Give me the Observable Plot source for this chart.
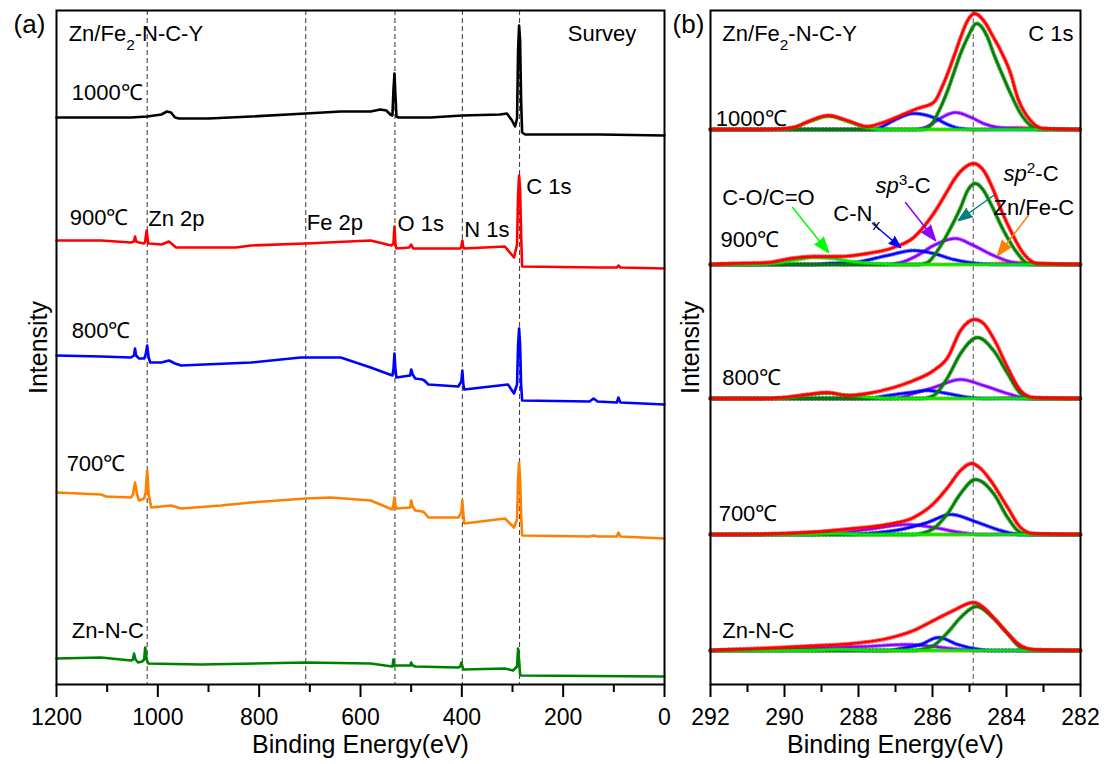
<!DOCTYPE html>
<html><head><meta charset="utf-8">
<script src="https://cdn.jsdelivr.net/npm/d3@7"></script>
<script src="https://cdn.jsdelivr.net/npm/@observablehq/plot@0.6"></script>
<style>
body{margin:0;background:#fff;}
#wrap{display:flex;width:1109px;height:764px;}
#wrap svg{overflow:visible;}
</style></head><body><div id="wrap"></div>
<script>
// ---------------- Panel (a): XPS survey, stacked spectra [BE (eV), intensity a.u.] ----------------
const surveySamples = ["1000℃", "900℃", "800℃", "700℃", "Zn-N-C"];
const survey1000 = [[1200,567],[1111,567],[1053,567],[1021,568],[993,570],[982,573],[974,572],[966,567],[958,566],[900,566],[816,568],[708,571],[639,573],[580,573],[561,575],[549,574],[541,570],[537,569],[535,594],[533,611],[531,589],[529,568],[525,567],[462,567],[399,569],[325,570],[311,571],[301,564],[295,558],[291,566],[289,634],[287,659],[285,644],[283,584],[281,552],[275,550],[128,550],[0,549]];
const survey900 = [[1200,444],[1112,444],[1053,442],[1047,443],[1045,448],[1043,443],[1037,442],[1027,441],[1025,443],[1022,454],[1019,441],[1017,441],[993,440],[978,443],[964,437],[846,437],[816,439],[708,441],[580,444],[539,439],[535,441],[533,458],[531,440],[529,436],[504,437],[500,440],[496,436],[403,436],[401,438],[399,444],[397,437],[395,436],[315,438],[297,427],[291,440],[289,490],[287,509],[285,495],[283,450],[281,418],[128,417],[94,417],[91,419],[87,417],[0,416]];
const survey800 = [[1200,329],[1112,328],[1053,327],[1047,329],[1045,336],[1043,329],[1037,326],[1027,326],[1024,330],[1021,339],[1018,327],[1015,322],[993,322],[978,324],[966,321],[954,319],[816,322],[718,327],[639,327],[580,317],[537,309],[535,315],[533,331],[531,315],[529,307],[502,309],[500,315],[497,310],[492,306],[478,305],[474,304],[466,300],[407,298],[401,303],[399,314],[397,300],[395,295],[309,300],[297,291],[291,300],[289,340],[287,356],[285,340],[283,300],[281,284],[148,283],[140,286],[132,283],[94,282],[91,287],[87,282],[0,280]];
const survey700 = [[1200,192],[1112,190],[1102,188],[1053,187],[1049,190],[1045,202],[1041,190],[1037,184],[1027,186],[1024,192],[1021,214],[1018,190],[1013,177],[993,178],[974,179],[954,176],[875,179],[816,182],[708,186],[659,187],[580,184],[537,175],[535,180],[533,187],[531,180],[529,176],[502,177],[500,184],[497,178],[492,174],[478,173],[474,172],[466,167],[407,167],[401,172],[399,184],[397,170],[395,161],[315,166],[297,157],[291,165],[289,205],[287,222],[285,205],[283,170],[281,149],[148,148],[140,149],[132,148],[94,148],[91,152],[87,148],[0,146]];
const surveyZnNC = [[1200,26],[1112,27],[1053,24],[1049,25],[1047,31],[1044,25],[1039,22],[1031,23],[1027,25],[1025,37],[1022,25],[1019,21],[915,20],[708,22],[580,21],[537,18],[535,25],[533,19],[529,19],[502,19],[500,22],[497,19],[492,18],[407,17],[403,18],[401,22],[397,15],[315,16],[299,14],[291,18],[289,36],[287,24],[285,10],[283,9],[0,8]];
const surveySpectra = [survey1000, survey900, survey800, survey700, surveyZnNC];
const surveyColors = ["#000000", "#ff0000", "#0000ff", "#ff8000", "#008000"];
const surveyPeakLines = [1021, 708, 532, 399, 286];
const surveyTicks = [1200, 1000, 800, 600, 400, 200, 0];
const surveyMinor = [1100, 900, 700, 500, 300, 100];
// annotation anchors (BE, intensity)
const surveyLabels = [
  {t:"Zn/Fe_{2}-N-C-Y", be:1176, v:651},
  {t:"Survey", be:191, v:651},
  {t:"1000℃", be:1170, v:592},
  {t:"900℃", be:1174, v:467},
  {t:"Zn 2p", be:1019, v:466},
  {t:"Fe 2p", be:706, v:462},
  {t:"O 1s", be:527, v:461},
  {t:"N 1s", be:395, v:455},
  {t:"C 1s", be:273, v:498},
  {t:"800℃", be:1170, v:354},
  {t:"700℃", be:1180, v:221},
  {t:"Zn-N-C", be:1170, v:54}
];

// ---------------- Panel (b): C 1s fits [BE (eV), height above stack baseline] ----------------
const c1sSamples = ["1000℃", "900℃", "800℃", "700℃", "Zn-N-C"];
const c1sOffsets = [555, 420, 286, 150, 34];
const c1sEnvelope = [
  [[292,0],[290.46,0],[289.76,2],[289.30,9],[288.81,14],[288.30,9],[287.76,3],[287.41,6],[286.86,14],[286.41,21],[285.97,27],[285.70,46],[285.43,72],[285.24,92],[285.05,109],[284.86,116],[284.62,109],[284.35,92],[284.16,79],[283.89,56],[283.70,32],[283.35,9],[283.00,1],[282,0]],
  [[292,0],[291.38,1],[290.46,2],[289.84,6],[289.22,8],[288.49,8],[287.76,11],[287.05,17],[286.51,27],[285.97,51],[285.59,74],[285.43,84],[285.16,96],[284.89,101],[284.62,94],[284.35,74],[284.16,56],[283.89,34],[283.54,11],[283.16,1],[282,0]],
  [[292,0],[290.46,0],[290.03,1],[289.38,4],[288.84,6],[288.30,3],[287.76,5],[287.05,11],[286.51,18],[285.97,28],[285.59,41],[285.24,68],[284.86,79],[284.62,75],[284.35,60],[283.97,31],[283.62,8],[283.27,1],[282,0]],
  [[292,0],[291.38,0],[290.11,1],[289.03,3],[288.14,6],[287.22,10],[286.51,17],[285.97,31],[285.59,47],[285.24,64],[284.95,71],[284.70,66],[284.43,54],[283.97,27],[283.62,7],[283.27,1],[282,0]],
  [[292,0],[291.38,1],[290.11,3],[289.03,5],[288.14,7],[287.22,12],[286.51,20],[285.97,30],[285.43,40],[284.89,48],[284.62,43],[284.35,33],[283.97,17],[283.62,5],[283.27,1],[282,0]]
];
const c1sSp2 = [
  [[292,0],[286.3,0],[286.05,4],[285.86,16],[285.59,39],[285.43,56],[285.24,76],[285.05,92],[284.81,106],[284.51,92],[284.35,76],[284.08,52],[283.89,36],[283.62,16],[283.35,4],[283.1,0],[282,0]],
  [[292,0],[286.4,0],[286.14,2],[285.86,14],[285.59,31],[285.24,57],[285.05,74],[284.84,81],[284.62,74],[284.43,61],[284.08,34],[283.70,11],[283.43,1],[283.2,0],[282,0]],
  [[292,0],[286.3,0],[285.97,3],[285.59,21],[285.24,45],[284.78,61],[284.35,48],[283.97,25],[283.62,5],[283.3,0],[282,0]],
  [[292,0],[286.5,0],[286.32,1],[285.97,6],[285.59,21],[285.24,41],[284.84,55],[284.35,41],[283.97,17],[283.62,2],[283.3,0],[282,0]],
  [[292,0],[286.5,0],[286.32,1],[285.97,5],[285.59,18],[285.24,33],[284.81,44],[284.35,32],[283.97,17],[283.62,3],[283.3,0],[282,0]]
];
const c1sSp3 = [
  [[292,0],[286.5,0],[286.14,3],[285.80,11],[285.38,17],[284.95,12],[284.62,6],[284.2,2],[283.6,1],[283.0,0],[282,0]],
  [[292,0],[287.3,0],[286.86,2],[286.41,9],[285.97,19],[285.38,26],[284.89,19],[284.35,9],[283.81,2],[283.2,0],[282,0]],
  [[292,0],[287.0,0],[286.51,5],[285.97,11],[285.24,19],[284.62,13],[283.97,5],[283.4,0],[282,0]],
  [[292,0],[289.5,0],[288.68,1],[287.76,5],[286.68,10],[285.97,7],[285.24,2],[284.7,0],[282,0]],
  [[292,0],[291.38,1],[290.46,1],[289.5,2],[288.68,3],[287.76,4],[286.68,6],[285.97,4],[285.24,1],[284.7,0],[282,0]]
];
const c1sCNx = [
  [[292,0],[287.6,0],[287.41,2],[287.05,9],[286.51,16],[285.97,12],[285.59,5],[285.24,1],[284.8,0],[282,0]],
  [[292,0],[289.2,0],[288.84,1],[288.14,2],[287.22,9],[286.51,14],[285.97,11],[285.43,5],[284.78,1],[284.2,0],[282,0]],
  [[292,0],[287.8,0],[287.2,3],[286.6,6],[286.14,8],[285.6,5],[285.0,1],[284.5,0],[282,0]],
  [[292,0],[288.2,0],[287.76,1],[286.86,5],[286.14,12],[285.51,20],[284.78,12],[284.16,4],[283.62,0],[282,0]],
  [[292,0],[287.2,0],[286.86,2],[286.32,6],[285.84,13],[285.32,6],[284.89,2],[284.4,0],[282,0]]
];
const c1sCO = [
  [[292,0],[290.2,0],[289.76,2],[289.30,8],[288.81,13],[288.30,8],[287.8,2],[287.3,0],[282,0]],
  [[292,0],[290.8,0],[290.1,2],[289.6,5],[289.22,7],[288.7,6],[288.2,3],[287.5,1],[287,0],[282,0]],
  [[292,0],[290.2,0],[289.5,3],[288.84,5],[288.2,3],[287.6,1],[287,0],[282,0]],
  [[292,0],[289.5,0],[288.6,1],[287.8,0],[282,0]],
  [[292,0],[289.5,0],[288.5,1],[287.5,0],[282,0]]
];
const c1sZnFeC = [
  [[292,0],[284.6,0],[284.2,1],[283.6,2],[283.0,1],[282.6,0],[282,0]],
  [[292,0],[284.8,0],[284.3,1],[283.7,2],[283.0,1],[282.5,0],[282,0]],
  [[292,0],[284.5,0],[283.8,1],[283.2,0],[282,0]],
  [[292,0],[284.5,0],[283.8,1],[283.0,0],[282,0]],
  [[292,0],[282,0]]
];
const c1sPeakLine = [284.9];
const c1sTicks = [292, 290, 288, 286, 284, 282];
const c1sMinor = [291, 289, 287, 285, 283];
const c1sLabels = [
  {t:"Zn/Fe_{2}-N-C-Y", be:291.68, v:651},
  {t:"1000℃", be:291.86, v:566},
  {t:"900℃", be:291.73, v:445},
  {t:"800℃", be:291.68, v:307},
  {t:"700℃", be:291.78, v:171},
  {t:"Zn-N-C", be:291.68, v:54},
  {t:"C-O/C=O", be:291.68, v:487},
  {t:"C-N_{x}", be:288.68, v:471},
  {t:"*sp*^{3}-C", be:287.54, v:499},
  {t:"*sp*^{2}-C", be:284.08, v:511},
  {t:"Zn/Fe-C", be:284.35, v:477}
];
const c1sLabelsRight = [{t:"C 1s", be:282.19, v:651}];
const c1sArrows = [
  {be1:289.78, v1:477, be2:288.81, v2:432, c:"#00ff00"},
  {be1:287.62, v1:461, be2:286.86, v2:437, c:"#0000ff"},
  {be1:286.73, v1:482, be2:285.92, v2:444, c:"#8b00ff"},
  {be1:284.35, v1:489, be2:285.30, v2:464, c:"#008080"},
  {be1:283.41, v1:469, be2:284.24, v2:429, c:"#ff8000"}
];
const compColors = {ZnFeC:"#ff8000", sp3:"#8b00ff", CNx:"#0000ff", sp2:"#008000", CO:"#00ee00", env:"#ff0000"};

// ---------------- helpers ----------------
const FONT = "'Liberation Sans', Arial, Helvetica, sans-serif";
function richText(root){
  root.querySelectorAll("text").forEach(t => {
    const s = t.textContent;
    if (!/(_\{|\^\{|\*)/.test(s)) return;
    const parts = s.split(/(_\{[^}]*\}|\^\{[^}]*\}|\*[^*]*\*)/).filter(p => p);
    while (t.firstChild) t.removeChild(t.firstChild);
    for (const p of parts) {
      const ts = document.createElementNS("http://www.w3.org/2000/svg", "tspan");
      if (p.startsWith("_{")) { ts.textContent = p.slice(2,-1); ts.setAttribute("baseline-shift","sub"); ts.setAttribute("font-size","70%"); }
      else if (p.startsWith("^{")) { ts.textContent = p.slice(2,-1); ts.setAttribute("baseline-shift","super"); ts.setAttribute("font-size","70%"); }
      else if (p.startsWith("*")) { ts.textContent = p.slice(1,-1); ts.setAttribute("font-style","italic"); }
      else ts.textContent = p;
      t.appendChild(ts);
    }
  });
}
function fillArrowHeads(root){
  root.querySelectorAll('g[aria-label="arrow"] path').forEach(p => {
    const s = p.getAttribute("stroke") || p.parentNode.getAttribute("stroke");
    if (s) p.setAttribute("fill", s);
    p.setAttribute("stroke-linejoin", "miter");
  });
}

// ---------------- Panel (a) ----------------
const surveyRows = surveySpectra.flatMap((s, i) => s.map(([be, v]) => ({sample: surveySamples[i], i, be, v})));
const plotA = Plot.plot({
  width: 680, height: 764,
  marginLeft: 56, marginRight: 16, marginTop: 10, marginBottom: 80,
  style: {fontFamily: FONT, fontSize: "23px", color: "black", background: "white"},
  x: {domain: [1200, 0]},
  y: {domain: [0, 674], axis: null},
  marks: [
    Plot.ruleX(surveyPeakLines, {stroke: "#333", strokeWidth: 1, strokeDasharray: "5,3"}),
    ...surveySamples.map((s, i) => Plot.line(surveyRows.filter(d => d.i === i), {x: "be", y: "v", stroke: surveyColors[i], strokeWidth: 2.6, strokeLinejoin: "round"})),
    Plot.frame({stroke: "black", strokeWidth: 2}),
    Plot.axisX({ticks: surveyTicks, tickSize: 13, tickPadding: 11, tickFormat: d => String(d), strokeWidth: 2, label: null}),
    Plot.axisX({ticks: surveyMinor, tickSize: 8, tickFormat: () => "", strokeWidth: 2, label: null}),
    Plot.text(surveyLabels, {x: "be", y: "v", text: "t", textAnchor: "start", lineAnchor: "middle", fontSize: 22, fill: "black"}),
    Plot.text(["Binding Energy(eV)"], {frameAnchor: "bottom", dy: 60, textAnchor: "middle", lineAnchor: "middle", fontSize: 25}),
    Plot.text(["Intensity"], {frameAnchor: "left", dx: -18, rotate: -90, textAnchor: "middle", lineAnchor: "middle", fontSize: 25}),
    Plot.text(["(a)"], {frameAnchor: "top-left", dx: -27, dy: 14, textAnchor: "middle", lineAnchor: "middle", fontSize: 26})
  ]
});

// ---------------- Panel (b) ----------------
function compRows(comp) {
  return comp.flatMap((pts, i) => pts.map(([be, h]) => ({sample: c1sSamples[i], be, v: h + c1sOffsets[i]})));
}
function fitLine(comp, color, w) {
  const rows = compRows(comp);
  return [
    Plot.line(rows, {x: "be", y: "v", z: "sample", stroke: color, strokeWidth: w, curve: "monotone-x", strokeLinejoin: "round"}),
    Plot.line(rows, {x: "be", y: "v", z: "sample", stroke: color, strokeWidth: w + 2, strokeDasharray: "1,2.6", strokeOpacity: 0.6, curve: "monotone-x"})
  ];
}
const plotB = Plot.plot({
  width: 429, height: 764,
  marginLeft: 30, marginRight: 29, marginTop: 10, marginBottom: 80,
  style: {fontFamily: FONT, fontSize: "23px", color: "black", background: "white"},
  x: {domain: [292, 282]},
  y: {domain: [0, 674], axis: null},
  marks: [
    Plot.ruleX(c1sPeakLine, {stroke: "#555", strokeWidth: 1, strokeDasharray: "5,3"}),
    ...fitLine(c1sZnFeC, compColors.ZnFeC, 2),
    ...fitLine(c1sSp3, compColors.sp3, 2),
    ...fitLine(c1sCNx, compColors.CNx, 2),
    ...fitLine(c1sSp2, compColors.sp2, 2.3),
    ...fitLine(c1sCO, compColors.CO, 2),
    ...fitLine(c1sEnvelope, compColors.env, 2.3),
    Plot.arrow(c1sArrows, {x1: "be1", y1: "v1", x2: "be2", y2: "v2", stroke: "c", strokeWidth: 1.5, headLength: 16, headAngle: 40}),
    Plot.frame({stroke: "black", strokeWidth: 2}),
    Plot.axisX({ticks: c1sTicks, tickSize: 13, tickPadding: 11, tickFormat: d => String(d), strokeWidth: 2, label: null}),
    Plot.axisX({ticks: c1sMinor, tickSize: 8, tickFormat: () => "", strokeWidth: 2, label: null}),
    Plot.text(c1sLabels, {x: "be", y: "v", text: "t", textAnchor: "start", lineAnchor: "middle", fontSize: 22, fill: "black"}),
    Plot.text(c1sLabelsRight, {x: "be", y: "v", text: "t", textAnchor: "end", lineAnchor: "middle", fontSize: 22, fill: "black"}),
    Plot.text(["Binding Energy(eV)"], {frameAnchor: "bottom", dy: 60, textAnchor: "middle", lineAnchor: "middle", fontSize: 25}),
    Plot.text(["Intensity"], {frameAnchor: "left", dx: -20, rotate: -90, textAnchor: "middle", lineAnchor: "middle", fontSize: 25}),
    Plot.text(["(b)"], {frameAnchor: "top-left", dx: -22, dy: 14, textAnchor: "middle", lineAnchor: "middle", fontSize: 26})
  ]
});

const wrap = document.getElementById("wrap");
wrap.appendChild(plotA);
wrap.appendChild(plotB);
richText(plotA);
richText(plotB);
fillArrowHeads(plotB);
</script></body></html>
